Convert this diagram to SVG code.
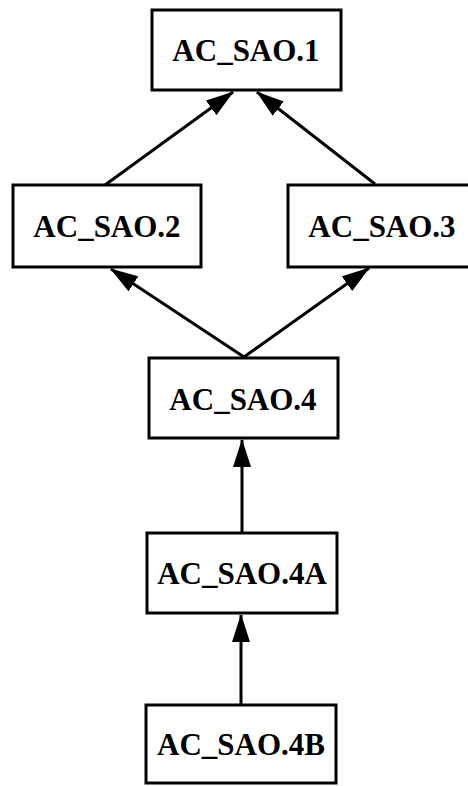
<svg xmlns="http://www.w3.org/2000/svg" width="468" height="786" viewBox="0 0 468 786">
<style>
.box{fill:#fff;stroke:#000;stroke-width:3}
.lbl{font-family:"Liberation Serif","Times New Roman",serif;font-weight:bold;font-size:31px;fill:#000;text-anchor:middle}
.edge{stroke:#000;stroke-width:3;fill:none;marker-end:url(#ah)}
</style>
<defs>
<marker id="ah" markerUnits="userSpaceOnUse" markerWidth="28" markerHeight="18" refX="27" refY="9" orient="auto">
<path d="M0,0 L28,9 L0,18 z" fill="#000"/>
</marker>
</defs>
<rect width="468" height="786" fill="#fff"/>
<g id="connectors">
<line class="edge" x1="105" y1="185" x2="233" y2="92"/>
<line class="edge" x1="375" y1="184" x2="257" y2="92"/>
<line class="edge" x1="244" y1="357" x2="111" y2="269"/>
<line class="edge" x1="244" y1="357" x2="369" y2="268"/>
<line class="edge" x1="242" y1="533" x2="242" y2="440"/>
<line class="edge" x1="241" y1="705" x2="241" y2="615"/>
</g>
<g id="n1">
<rect class="box" x="152" y="10" width="189" height="80"/>
<text class="lbl" x="246" y="61">AC_SAO.1</text>
</g>
<g id="n2">
<rect class="box" x="13" y="185" width="188" height="82"/>
<text class="lbl" x="107" y="237">AC_SAO.2</text>
</g>
<g id="n3">
<rect class="box" x="288" y="185" width="184" height="82"/>
<text class="lbl" x="382" y="237">AC_SAO.3</text>
</g>
<g id="n4">
<rect class="box" x="149" y="358" width="189" height="80"/>
<text class="lbl" x="243" y="410">AC_SAO.4</text>
</g>
<g id="n4A">
<rect class="box" x="147" y="533" width="190" height="80"/>
<text class="lbl" x="242" y="584">AC_SAO.4A</text>
</g>
<g id="n4B">
<rect class="box" x="146" y="705" width="190" height="78"/>
<text class="lbl" x="241" y="755">AC_SAO.4B</text>
</g>
</svg>
